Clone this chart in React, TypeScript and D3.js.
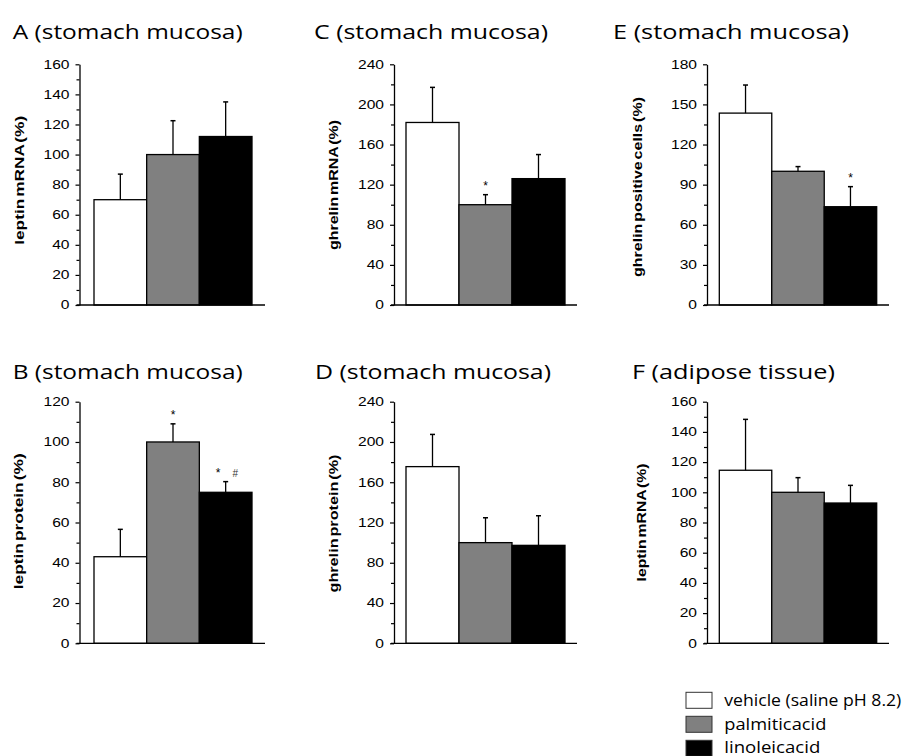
import React, { useEffect, useRef } from 'react';
import * as d3 from 'd3';

// groups (legend order)
const seriesNames = ['vehicle (saline pH 8.2)', 'palmitic acid', 'linoleic acid'];

// panels A..F
const panelLetters = ['A', 'B', 'C', 'D', 'E', 'F'];
const panelTissues = ['stomach mucosa', 'stomach mucosa', 'stomach mucosa', 'stomach mucosa', 'stomach mucosa', 'adipose tissue'];
const yLabels = ['leptin mRNA (%)', 'leptin protein (%)', 'ghrelin mRNA (%)', 'ghrelin protein (%)', 'ghrelin positive cells (%)', 'leptin mRNA (%)'];
const yMaxima = [160, 120, 240, 240, 180, 160];
const majorSteps = [20, 20, 40, 40, 30, 20];

// means and SEM per panel
const meanA = [70, 100, 112];
const semA = [17, 22.5, 23];
const meanB = [43, 100, 75];
const semB = [13.6, 9, 5.3];
const meanC = [182, 100, 126];
const semC = [35, 10, 24];
const meanD = [175.5, 100, 97.3];
const semD = [32, 24.7, 29.4];
const meanE = [143.5, 100, 73.5];
const semE = [21, 3.5, 15];
const meanF = [114.6, 100, 92.9];
const semF = [33.7, 9.7, 11.7];

// significance marks above bars
const marksA = [[], [], []];
const marksB = [[], ['*'], ['*', '#']];
const marksC = [[], ['*'], []];
const marksD = [[], [], []];
const marksE = [[], [], ['*']];
const marksF = [[], [], []];

const means = [meanA, meanB, meanC, meanD, meanE, meanF];
const sems = [semA, semB, semC, semD, semE, semF];
const marks = [marksA, marksB, marksC, marksD, marksE, marksF];

// layout
const panelCol = [0, 0, 1, 1, 2, 2];
const panelRow = [0, 1, 0, 1, 0, 1];
const colAxisX = [79.5, 394, 707];
const colBarStart = [94, 406, 719.3];
const colBarEnd = [252, 565, 876.7];
const colRight = [265, 577, 889];
const rowTop = [64.3, 401.7];
const rowZero = [305, 643.3];
const titleX = [12.7, 12.7, 314, 315, 613, 632];
const titleLen = [230, 230, 234, 236, 236, 203];
const titleBaseline = [39, 378.5];
const labelCx = [19.5, 19.3, 334, 334, 638, 641.7];
const labelCy = [180.3, 521.3, 185, 523.5, 187, 522.5];
const labelLen = [129, 136, 130, 138, 180, 118];

const fills = ['#ffffff', '#808080', '#000000'];
const ARIAL = '"Liberation Sans", Arial, sans-serif';
const SEGOE = '"Open Sans", "Noto Sans", sans-serif';

const App = () => {
  const svgRef = useRef(null);

  useEffect(() => {
    const svg = d3.select(svgRef.current);
    svg.selectAll('*').remove();

    panelLetters.forEach((letter, p) => {
      const c = panelCol[p];
      const r = panelRow[p];
      const g = svg.append('g');

      const y = d3.scaleLinear().domain([0, yMaxima[p]]).range([rowZero[r], rowTop[r]]);
      const x = d3.scaleBand().domain(seriesNames).range([colBarStart[c], colBarEnd[c]]).padding(0);

      // title
      g.append('text')
        .attr('x', titleX[p])
        .attr('y', titleBaseline[r])
        .attr('font-family', SEGOE)
        .attr('font-size', 20)
        .attr('textLength', titleLen[p])
        .attr('lengthAdjust', 'spacingAndGlyphs')
        .text(`${letter} (${panelTissues[p]})`);

      // y label
      g.append('text')
        .attr('transform', `translate(${labelCx[p]},${labelCy[p]}) rotate(-90)`)
        .attr('text-anchor', 'middle')
        .attr('dominant-baseline', 'central')
        .attr('font-family', ARIAL)
        .attr('font-weight', 'bold')
        .attr('font-size', 12.5)
        .attr('word-spacing', -2)
        .attr('textLength', labelLen[p])
        .attr('lengthAdjust', 'spacingAndGlyphs')
        .text(yLabels[p]);

      // bars
      const vals = means[p];
      g.selectAll('rect.bar')
        .data(vals)
        .enter()
        .append('rect')
        .attr('class', 'bar')
        .attr('x', (d, i) => x(seriesNames[i]))
        .attr('y', d => y(d))
        .attr('width', x.bandwidth())
        .attr('height', d => y(0) - y(d))
        .attr('fill', (d, i) => fills[i])
        .attr('stroke', '#000')
        .attr('stroke-width', 1.3);

      // error bars (upper only)
      vals.forEach((m, i) => {
        const cx = x(seriesNames[i]) + x.bandwidth() / 2;
        const top = y(m + sems[p][i]);
        g.append('line')
          .attr('x1', cx).attr('x2', cx)
          .attr('y1', y(m)).attr('y2', top)
          .attr('stroke', '#000').attr('stroke-width', 1.3);
        g.append('line')
          .attr('x1', cx - 2.5).attr('x2', cx + 2.5)
          .attr('y1', top).attr('y2', top)
          .attr('stroke', '#000').attr('stroke-width', 1.5);

        const ms = marks[p][i];
        ms.forEach((s, k) => {
          const off = ms.length > 1 ? (k - (ms.length - 1) / 2) * 17 + 1 : 0;
          g.append('text')
            .attr('x', cx + off)
            .attr('y', top - 5)
            .attr('text-anchor', 'middle')
            .attr('font-family', ARIAL)
            .attr('font-size', s === '#' ? 10 : 12)
            .attr('fill', s === '#' ? '#333' : '#000')
            .text(s);
        });
      });

      // y axis: minor then major ticks
      const step = majorSteps[p];
      const minor = d3.range(step / 2, yMaxima[p], step);
      const major = d3.range(0, yMaxima[p] + 0.001, step);

      g.append('g')
        .attr('transform', `translate(${colAxisX[c]},0)`)
        .call(d3.axisLeft(y).tickValues(minor).tickSize(3).tickSizeOuter(0).tickFormat(() => ''))
        .call(a => a.select('.domain').remove())
        .selectAll('line').attr('stroke-width', 1.2);

      const ax = g.append('g')
        .attr('transform', `translate(${colAxisX[c]},0)`)
        .call(d3.axisLeft(y).tickValues(major).tickSize(4).tickSizeOuter(0).tickFormat(d3.format('d')));
      ax.select('.domain').attr('stroke-width', 1.3);
      ax.selectAll('line').attr('stroke-width', 1.2);
      ax.selectAll('text')
        .attr('x', null)
        .attr('transform', 'translate(-10,0) scale(1.3,1)')
        .attr('font-family', ARIAL)
        .attr('font-size', 12)
        .attr('fill', '#000');

      // x axis baseline
      g.append('line')
        .attr('x1', colAxisX[c] - 3).attr('x2', colRight[c])
        .attr('y1', y(0)).attr('y2', y(0))
        .attr('stroke', '#000').attr('stroke-width', 1.3);
    });

    // legend
    const legendLen = [177, 102, 96];
    const leg = svg.append('g');
    seriesNames.forEach((name, i) => {
      leg.append('rect')
        .attr('x', 686).attr('y', 692.3 + i * 24)
        .attr('width', 26).attr('height', 16)
        .attr('fill', fills[i])
        .attr('stroke', '#333').attr('stroke-width', 1);
      leg.append('text')
        .attr('x', 724.3).attr('y', 705.7 + i * 23.8)
        .attr('font-family', SEGOE)
        .attr('font-size', 16)
        .attr('word-spacing', i > 0 ? -4 : 0)
        .attr('textLength', legendLen[i])
        .attr('lengthAdjust', 'spacingAndGlyphs')
        .text(name);
    });
  }, []);

  return (
    <svg
      ref={svgRef}
      width={905}
      height={756}
      style={{ position: 'absolute', left: 0, top: 0, background: '#fff' }}
    />
  );
};

export default App;
